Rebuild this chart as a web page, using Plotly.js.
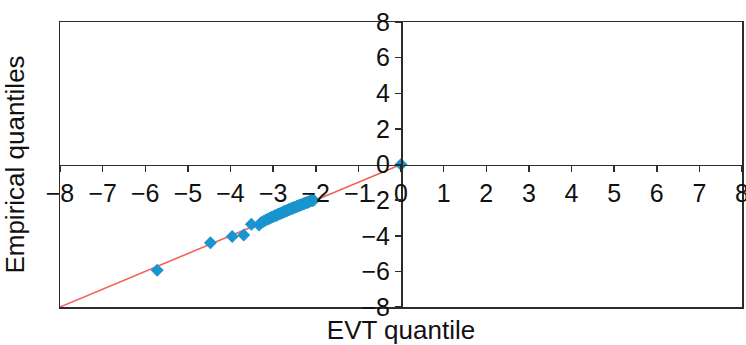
<!DOCTYPE html>
<html>
<head>
<meta charset="utf-8">
<script src="https://cdn.plot.ly/plotly-3.0.1.min.js"></script>
<style>html,body{margin:0;padding:0;background:#fff;}#chart{width:746px;height:345px;}</style>
</head>
<body>
<div id="chart"></div>
<script>
// EVT quantile (x) vs empirical quantile (y)
var evtQuantile = [-5.72, -4.47, -3.96, -3.69, -3.51, -3.33,
  -3.28, -3.22, -3.17, -3.12, -3.08, -3.04, -3.00, -2.96, -2.93, -2.90,
  -2.87, -2.84, -2.81, -2.78, -2.75, -2.73, -2.70, -2.68, -2.66, -2.63,
  -2.61, -2.58, -2.56, -2.54, -2.52, -2.49, -2.46, -2.44, -2.41, -2.38,
  -2.35, -2.32, -2.29, -2.26, -2.23, -2.20, -2.17, -2.14, -2.11, -2.08, -2.05,
  0];
var empiricalQuantile = [-5.93, -4.39, -4.04, -3.96, -3.36, -3.40,
  -3.26, -3.18, -3.12, -3.06, -3.02, -2.96, -2.93, -2.88, -2.86, -2.82,
  -2.78, -2.76, -2.72, -2.70, -2.66, -2.63, -2.62, -2.58, -2.57, -2.53,
  -2.52, -2.48, -2.47, -2.45, -2.42, -2.41, -2.37, -2.35, -2.33, -2.29,
  -2.27, -2.24, -2.21, -2.19, -2.15, -2.13, -2.10, -2.07, -2.04, -2.02, -2.00,
  0];
// reference line y = x
var refLineX = [-8, 0];
var refLineY = [-8, 0];
var xTicks = [-8, -7, -6, -5, -4, -3, -2, -1, 0, 1, 2, 3, 4, 5, 6, 7, 8];
var yTicks = [-8, -6, -4, -2, 0, 2, 4, 6, 8];

var axisColor = '#2b2b2b';
var fam = 'Liberation Sans, Arial, sans-serif';
var tickFont = {family: fam, size: 25, color: '#111'};
var titleFont = {family: fam, size: 26, color: '#111'};

var data = [
  {x: refLineX, y: refLineY, mode: 'lines', type: 'scatter',
   line: {color: '#f0625a', width: 1.6}, hoverinfo: 'skip', showlegend: false},
  {x: evtQuantile, y: empiricalQuantile, mode: 'markers', type: 'scatter',
   marker: {symbol: 'diamond', size: 10, color: '#1a94cf'}, showlegend: false},
  {x: [], y: [], xaxis: 'x2', yaxis: 'y2', type: 'scatter', showlegend: false}
];

var layout = {
  width: 746, height: 345,
  margin: {l: 60, r: 4, t: 22, b: 38},
  paper_bgcolor: '#fff', plot_bgcolor: '#fff',
  font: tickFont,
  showlegend: false,
  xaxis: {
    range: [-8, 8], anchor: 'free', position: 0.5,
    tickvals: xTicks, ticks: 'outside', ticklen: 6, tickwidth: 1.5, tickcolor: axisColor,
    showline: true, linecolor: axisColor, linewidth: 1.5, ticklabeloverflow: 'allow',
    showgrid: false, zeroline: false, tickfont: tickFont, automargin: false
  },
  yaxis: {
    range: [-8, 8], anchor: 'free', position: 0.5,
    tickvals: yTicks, ticks: 'outside', ticklen: 6, tickwidth: 1.5, tickcolor: axisColor,
    showline: true, linecolor: axisColor, linewidth: 1.5, ticklabeloverflow: 'allow',
    showgrid: false, zeroline: false, tickfont: tickFont, automargin: false
  },
  xaxis2: {
    range: [-8, 8], overlaying: 'x', anchor: 'y2',
    showline: true, mirror: true, linecolor: axisColor, linewidth: 1.5,
    showticklabels: false, ticks: '', showgrid: false, zeroline: false,
    title: {text: 'EVT quantile', font: titleFont, standoff: 14},
    automargin: false
  },
  yaxis2: {
    range: [-8, 8], overlaying: 'y', anchor: 'x2',
    showline: true, mirror: true, linecolor: axisColor, linewidth: 1.5,
    showticklabels: false, ticks: '', showgrid: false, zeroline: false,
    title: {text: 'Empirical quantiles', font: titleFont, standoff: 26},
    automargin: false
  }
};

Plotly.newPlot('chart', data, layout, {staticPlot: true, displayModeBar: false});
</script>
</body>
</html>
